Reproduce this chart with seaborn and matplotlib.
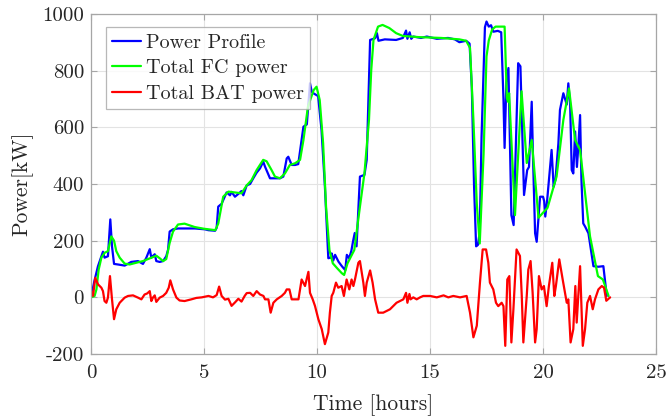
import matplotlib
matplotlib.use("Agg")
import matplotlib.pyplot as plt
import seaborn as sns

# Power profile demanded by the load [kW] over time [hours]
t_load = [0.0, 0.16, 0.31, 0.46, 0.53, 0.6, 0.75, 0.855, 0.93, 1.02, 1.19, 1.49, 1.78,
          2.08, 2.3, 2.45, 2.6, 2.67, 2.74, 2.82, 2.89, 3.04, 3.19, 3.33, 3.41, 3.48,
          3.63, 3.85, 4.14, 4.44, 4.6, 5.04, 5.19, 5.49, 5.56, 5.63, 5.78, 6.0, 6.15,
          6.22, 6.37, 6.52, 6.66, 6.74, 6.89, 7.04, 7.18, 7.33, 7.48, 7.62, 7.7, 7.92,
          8.14, 8.36, 8.51, 8.66, 8.73, 8.88, 9.03, 9.17, 9.32, 9.4, 9.55, 9.69, 9.77,
          9.84, 10.05, 10.2, 10.35, 10.5, 10.6, 10.65, 10.72, 10.8, 10.95, 11.1, 11.25,
          11.32, 11.42, 11.52, 11.6, 11.67, 11.75, 11.9, 12.1, 12.2, 12.35, 12.57,
          12.65, 12.72, 13.0, 13.5, 13.8, 13.94, 14.0, 14.1, 14.17, 14.26, 14.6, 14.86,
          15.3, 15.8, 16.1, 16.3, 16.6, 16.75, 16.85, 16.95, 17.04, 17.12, 17.2, 17.28,
          17.43, 17.5, 17.6, 17.7, 17.8, 18.0, 18.15, 18.25, 18.3, 18.38, 18.47, 18.6,
          18.7, 18.9, 19.0, 19.16, 19.3, 19.38, 19.5, 19.56, 19.65, 19.72, 19.87, 20.0,
          20.05, 20.1, 20.18, 20.38, 20.47, 20.55, 20.68, 20.75, 20.9, 21.05, 21.12,
          21.2, 21.27, 21.34, 21.42, 21.5, 21.56, 21.64, 21.7, 21.78, 21.86, 22.01,
          22.23, 22.45, 22.67, 22.82]
p_load = [0, 61, 110, 145, 161, 140, 145, 275, 180, 118, 116, 112, 125,
          128, 118, 140, 170, 140, 146, 152, 128, 125, 128, 145, 168, 232,
          240, 243, 243, 243, 243, 240, 237, 235, 245, 320, 330, 370, 360,
          372, 355, 365, 375, 360, 395, 400, 420, 440, 455, 479, 461, 420,
          420, 420, 426, 490, 496, 467, 467, 470, 555, 602, 610, 755, 725,
          720, 710, 590, 390, 138, 140, 155, 130, 150, 126, 110, 96,
          150, 138, 164, 200, 227, 180, 426, 432, 485, 908, 914,
          932, 905, 910, 908, 915, 941, 912, 935, 912, 920, 915, 920,
          912, 915, 910, 900, 905, 895, 740, 390, 180, 185, 230, 565,
          953, 973, 955, 960, 937, 940, 935, 700, 527, 760, 809, 290,
          255, 826, 815, 361, 449, 460, 690, 485, 226, 196, 355, 355,
          340, 285, 340, 520, 390, 415, 543, 661, 720, 680, 755,
          680, 449, 437, 585, 460, 530, 643, 415, 261, 250, 226,
          110, 108, 110, 5]

# Combined fuel-cell output [kW]
t_fc = [0.0, 0.16, 0.24, 0.34, 0.46, 0.6, 0.75, 0.9, 1.02, 1.12, 1.27, 1.49, 1.71,
        2.0, 2.3, 2.74, 2.89, 3.04, 3.19, 3.33, 3.48, 3.63, 3.85, 4.14, 4.59, 5.0,
        5.5, 5.63, 5.85, 6.08, 6.37, 6.66, 6.89, 7.1, 7.33, 7.62, 7.77, 7.99, 8.14,
        8.36, 8.58, 8.8, 9.03, 9.25, 9.4, 9.6, 9.85, 9.98, 10.12, 10.27, 10.4,
        10.55, 10.7, 10.9, 11.1, 11.2, 11.35, 11.65, 11.9, 12.1, 12.3, 12.4, 12.5,
        12.7, 12.9, 13.2, 13.5, 13.8, 14.5, 15.5, 16.3, 16.6, 16.77, 16.92, 17.07,
        17.2, 17.37, 17.5, 17.6, 17.75, 17.9, 18.3, 18.4, 18.45, 18.5, 18.76,
        19.05, 19.28, 19.5, 19.8, 20.2, 20.6, 20.9, 21.15, 21.42, 21.64, 22.08,
        22.43, 22.65, 22.9]
p_fc = [0, 5, 28, 98, 140, 157, 163, 215, 200, 163, 140, 119, 116,
        122, 128, 142, 147, 138, 128, 135, 192, 232, 257, 260, 248, 242,
        237, 260, 355, 373, 370, 367, 395, 413, 449, 485, 480, 449, 426,
        420, 437, 467, 473, 485, 555, 673, 731, 743, 696, 544, 320,
        167, 120, 102, 85, 79, 120, 167, 320, 438, 626, 802, 908,
        955, 961, 950, 932, 922, 918, 915, 910, 905, 880, 626, 330,
        190, 505, 850, 906, 945, 955, 955, 703, 690, 720, 290,
        727, 474, 555, 281, 316, 426, 626, 737, 555, 520, 215,
        75, 63, 5]

# Combined battery output [kW]
t_bat = [0.01, 0.09, 0.19, 0.31, 0.46, 0.53, 0.6, 0.68, 0.75, 0.84, 0.93, 1.02, 1.12,
         1.27, 1.49, 1.64, 1.86, 2.08, 2.23, 2.37, 2.49, 2.6, 2.67, 2.74, 2.82, 2.89,
         3.04, 3.19, 3.33, 3.44, 3.51, 3.63, 3.78, 3.92, 4.14, 4.44, 4.66, 4.9, 5.2,
         5.4, 5.56, 5.67, 5.78, 5.93, 6.08, 6.22, 6.37, 6.52, 6.66, 6.8, 6.89, 7.04,
         7.18, 7.33, 7.48, 7.63, 7.7, 7.85, 7.95, 8.07, 8.22, 8.44, 8.58, 8.66, 8.78,
         8.88, 9.03, 9.18, 9.32, 9.47, 9.62, 9.69, 9.81, 9.91, 10.06, 10.21, 10.35,
         10.5, 10.57, 10.65, 10.72, 10.84, 10.94, 11.09, 11.19, 11.31, 11.43, 11.53,
         11.61, 11.68, 11.83, 11.9, 12.05, 12.12, 12.2, 12.35, 12.46, 12.57, 12.71,
         12.93, 13.23, 13.52, 13.82, 13.94, 14.0, 14.09, 14.14, 14.26, 14.41, 14.56,
         14.7, 15.0, 15.3, 15.6, 15.81, 16.03, 16.33, 16.62, 16.77, 16.92, 17.07,
         17.21, 17.33, 17.48, 17.58, 17.65, 17.8, 17.92, 18.02, 18.17, 18.25, 18.33,
         18.42, 18.51, 18.6, 18.69, 18.83, 18.98, 19.06, 19.13, 19.28, 19.35, 19.45,
         19.54, 19.65, 19.72, 19.82, 19.94, 20.04, 20.16, 20.26, 20.41, 20.5, 20.57,
         20.72, 20.87, 21.05, 21.12, 21.22, 21.34, 21.43, 21.49, 21.64, 21.76, 21.86,
         21.96, 22.08, 22.2, 22.3, 22.45, 22.6, 22.7, 22.8, 22.9, 22.97]
p_bat = [22, 5, 69, 46, 34, 22, -13, -19, -1, 75, -7, -77, -42,
         -19, -1, 5, 7, -1, -7, 10, 14, 22, -13, -1, 7, -16,
         -1, 5, 16, 34, 60, 28, -1, -11, -13, -7, -2, 0, 5,
         0, 8, 38, 5, -8, -5, -30, -18, -5, -15, 5, 15, 16,
         5, 22, 10, 5, -7, -7, -54, -19, -7, 5, 16, 28, 28,
         -7, -7, -7, 63, 40, 90, 16, -7, -30, -77, -112, -165,
         -124, -54, 5, 16, 52, 34, 40, 5, 63, 28, 63,
         40, 63, 122, 128, 52, 5, 52, 95, 52, -7, -54,
         -54, -42, -19, -7, 16, -19, 12, -7, 0, -7, 0,
         5, 5, 0, 7, 0, 5, 0, 5, -54, -141, -100,
         52, 169, 169, 122, 52, 28, -19, -31, -19, -31, -171,
         63, 75, -159, -42, 169, 146, 5, -159, 5, 98, 128,
         17, -159, -112, 75, 28, 40, -31, 40, 122, 5, 40,
         134, 63, -19, -7, -159, -112, 40, -89, 110, -171, -112,
         -19, 5, -42, -7, 28, 40, 34, -12, -5, 0]

series_names = ["Power Profile", "Total FC power", "Total BAT power"]
series_colors = ["#0000ff", "#00ff00", "#ff0000"]

x_ticks = [0, 5, 10, 15, 20, 25]
y_ticks = [-200, 0, 200, 400, 600, 800, 1000]

sns.set_theme(style="white")
plt.rcParams["font.family"] = ["cmr10", "DejaVu Serif"]
plt.rcParams["axes.unicode_minus"] = False
plt.rcParams["mathtext.fontset"] = "cm"

fig = plt.figure(figsize=(6.69, 4.20), dpi=100)
ax = fig.add_axes([0.136, 0.157, 0.8446, 0.81])

for (tx, py), name, col in zip([(t_load, p_load), (t_fc, p_fc), (t_bat, p_bat)],
                               series_names, series_colors):
    sns.lineplot(x=tx, y=py, ax=ax, color=col, linewidth=1.6, label=name,
                 estimator=None, sort=False)

ax.set_xlim(0, 25)
ax.set_ylim(-200, 1000)
ax.set_xticks(x_ticks)
ax.set_yticks(y_ticks)
ax.set_xticklabels([str(v) for v in x_ticks])
ax.set_yticklabels([str(v) for v in y_ticks])
ax.grid(True, color="#e3e3e3", linewidth=0.8)
ax.set_axisbelow(True)
for sp in ax.spines.values():
    sp.set_color("#a6a6a6")
    sp.set_linewidth(0.9)
ax.tick_params(direction="in", length=4, width=0.8, color="#a6a6a6",
               labelsize=15, labelcolor="#262626", top=True, right=True,
               bottom=True, left=True)
ax.tick_params(axis="x", pad=7)
ax.tick_params(axis="y", pad=5)
ax.set_xlabel("Time [hours]", fontsize=15.5, color="#262626", labelpad=9)
ax.set_ylabel("Power[kW]", fontsize=15.5, color="#262626", labelpad=6)

leg = ax.legend(loc="upper left", bbox_to_anchor=(0.026, 0.96), borderaxespad=0,
                fontsize=14.5, frameon=True, fancybox=False, handlelength=1.45,
                handletextpad=0.25, borderpad=0.3, labelspacing=0.37)
leg.get_frame().set_edgecolor("#a6a6a6")
leg.get_frame().set_linewidth(0.9)
for txt in leg.get_texts():
    txt.set_color("#262626")

fig.savefig("out.png", dpi=100)
